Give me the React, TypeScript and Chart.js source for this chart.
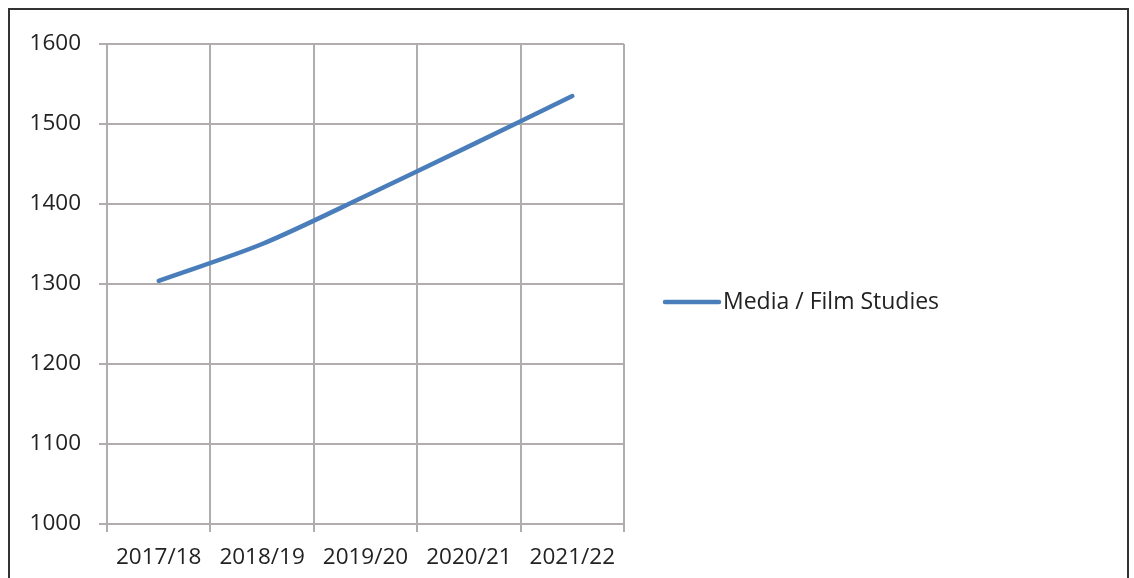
import React, { useEffect, useRef } from "react";
import { Chart, registerables } from "chart.js";

Chart.register(...registerables);

const categories = ["2017/18", "2018/19", "2019/20", "2020/21", "2021/22"];
const seriesName = "Media / Film Studies";
const seriesValues = [1304, 1350, 1410, 1472, 1535];
const yMin = 1000;
const yMax = 1600;
const yStep = 100;

const FONT = "'Open Sans', sans-serif";
const LINE_COLOR = "#4a7ebb";
const GRID_COLOR = "#b1adad";
const TEXT_COLOR = "#222222";

const legendPlugin = {
  id: "customLegend",
  afterDraw(chart: any) {
    const ctx = chart.ctx;
    const ds = chart.data.datasets[0];
    ctx.save();
    ctx.strokeStyle = ds.borderColor;
    ctx.lineWidth = 4.5;
    ctx.lineCap = "round";
    ctx.beginPath();
    ctx.moveTo(665, 302);
    ctx.lineTo(719, 302);
    ctx.stroke();
    ctx.fillStyle = TEXT_COLOR;
    ctx.font = `23px ${FONT}`;
    ctx.textBaseline = "middle";
    ctx.textAlign = "left";
    ctx.fillText(ds.label, 723, 302);
    ctx.restore();
  },
};

export default function App() {
  const ref = useRef<HTMLCanvasElement | null>(null);
  useEffect(() => {
    document.body.style.margin = "0";
    const chart = new Chart(ref.current!, {
      type: "line",
      data: {
        labels: categories,
        datasets: [
          {
            label: seriesName,
            data: seriesValues,
            borderColor: LINE_COLOR,
            backgroundColor: LINE_COLOR,
            borderWidth: 4.5,
            pointRadius: 0,
            tension: 0.3,
            borderCapStyle: "round",
          },
        ],
      },
      options: {
        animation: false,
        responsive: false,
        layout: { padding: { left: 0, top: 44, right: 510, bottom: 0 } },
        plugins: { legend: { display: false }, tooltip: { enabled: false } },
        scales: {
          x: {
            offset: true,
            grid: { offset: true, color: GRID_COLOR, lineWidth: 2, tickLength: 8, drawTicks: true },
            border: { color: GRID_COLOR, width: 2 },
            ticks: { color: TEXT_COLOR, font: { family: FONT, size: 22.5 }, padding: 12, maxRotation: 0 },
            afterFit: (s: any) => { s.height = 54; },
          },
          y: {
            min: yMin,
            max: yMax,
            ticks: {
              stepSize: yStep,
              color: TEXT_COLOR,
              font: { family: FONT, size: 22.5 },
              padding: 18,
              callback: (v: any) => String(v),
            },
            grid: { color: GRID_COLOR, lineWidth: 2, tickLength: 8 },
            border: { color: GRID_COLOR, width: 2 },
            afterFit: (s: any) => { s.width = 107; },
          },
        },
      },
      plugins: [legendPlugin],
    });
    return () => chart.destroy();
  }, []);
  return (
    <div style={{ position: "relative", width: 1134, height: 578, overflow: "hidden", background: "#fff" }}>
      <div style={{ position: "absolute", left: 8, top: 8, width: 1121, height: 700, border: "2px solid #333", boxSizing: "border-box" }} />
      <canvas ref={ref} width={1134} height={578} style={{ position: "absolute", left: 0, top: 0 }} />
    </div>
  );
}
